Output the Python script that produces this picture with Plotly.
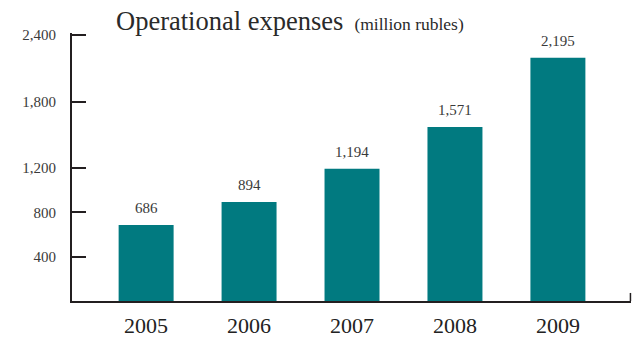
import plotly.graph_objects as go

# Operational expenses by year, million rubles
years = ["2005", "2006", "2007", "2008", "2009"]
expenses = [686, 894, 1194, 1571, 2195]
y_ticks = [400, 800, 1200, 1800, 2400]

BAR_COLOR = "#017a80"
AXIS_COLOR = "#231f20"
TEXT_COLOR = "#3a3a3a"
FONT = "Liberation Serif"

fig = go.Figure(
    go.Bar(
        x=years,
        y=expenses,
        marker=dict(color=BAR_COLOR, line=dict(width=0)),
        width=0.534,
        hoverinfo="x+y",
    )
)

# value labels above each bar (category axis positions are serial indices)
for i, val in enumerate(expenses):
    fig.add_annotation(
        x=i, y=val, xref="x", yref="y",
        text=f"{val:,}", showarrow=False,
        yanchor="bottom", yshift=7,
        font=dict(family=FONT, size=15, color=TEXT_COLOR),
    )

# small upturned end mark on the baseline
fig.add_shape(
    type="line", xref="paper", yref="paper",
    x0=0.999, x1=0.999, y0=0, y1=0.03,
    line=dict(color=AXIS_COLOR, width=1.5),
)

fig.update_layout(
    width=632, height=339,
    margin=dict(l=72, r=1, t=33, b=31),
    paper_bgcolor="white", plot_bgcolor="white",
    showlegend=False,
    bargap=0.466,
    title=dict(
        text="Operational expenses <span style='font-size:17.5px'>&nbsp;(million rubles)</span>",
        x=116 / 632, xanchor="left", xref="container",
        y=1 - 21 / 339, yanchor="middle", yref="container",
        font=dict(family=FONT, size=26.5, color="#2a2a2a"),
    ),
    xaxis=dict(
        type="category",
        range=[-0.72, 4.71],
        showline=True, linecolor=AXIS_COLOR, linewidth=2,
        showgrid=False, zeroline=False,
        ticks="", ticklabelstandoff=4,
        tickfont=dict(family=FONT, size=22, color="#222222"),
    ),
    yaxis=dict(
        range=[0, 2418],
        tickvals=y_ticks,
        tickformat=",",
        showline=True, linecolor=AXIS_COLOR, linewidth=2,
        showgrid=False, zeroline=False,
        ticks="inside", ticklen=14, tickwidth=2, tickcolor=AXIS_COLOR,
        ticklabelstandoff=11,
        tickfont=dict(family=FONT, size=15, color=TEXT_COLOR),
    ),
)

fig.write_html("out.html")
